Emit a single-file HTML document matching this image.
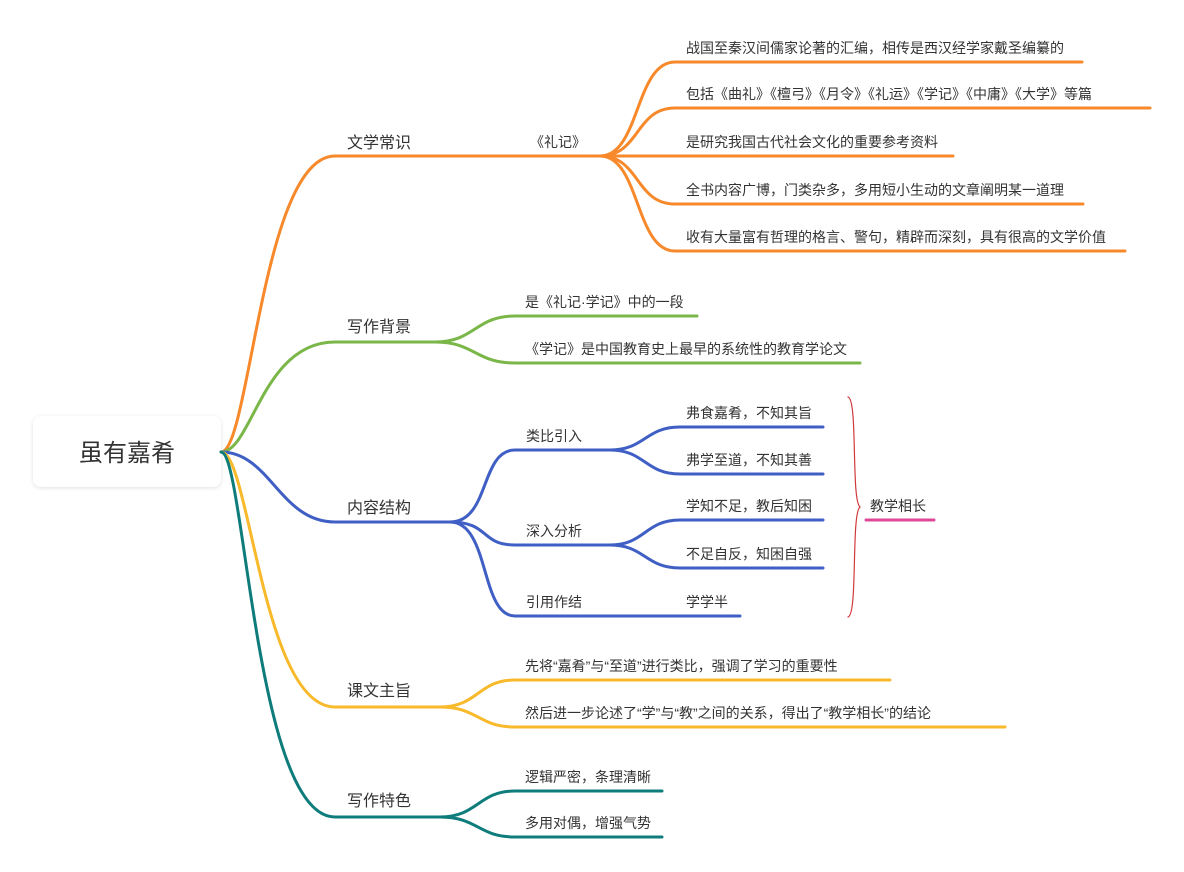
<!DOCTYPE html>
<html><head><meta charset="utf-8"><style>
html,body{margin:0;padding:0;background:#fff;width:1184px;height:872px;overflow:hidden}
svg{display:block}
text{font-family:"Liberation Sans","Noto Sans CJK SC",sans-serif;fill:#333}
.b{font-size:16px}.c{font-size:14px}
path{fill:none;stroke-width:3;stroke-linecap:round}
</style></head><body>
<svg width="1184" height="872" xmlns="http://www.w3.org/2000/svg">
<defs><filter id="sh" x="-20%" y="-20%" width="140%" height="150%"><feDropShadow dx="0" dy="1" stdDeviation="2" flood-color="#000" flood-opacity="0.12"/></filter></defs>
<rect x="33" y="416" width="188" height="71" rx="8" fill="#fff" filter="url(#sh)"/>
<text x="127" y="461" font-size="24" text-anchor="middle">虽有嘉肴</text>

<g stroke="#f7892b">
<path d="M221 452 C250 452 262 156 335 156 L600 156"/>
<path d="M600 156 C640 156 635 62 675 62 L1082 62"/>
<path d="M600 156 C640 156 635 108 675 108 L1150 108"/>
<path d="M600 156 L953 156"/>
<path d="M600 156 C640 156 635 204 675 204 L1083 204"/>
<path d="M600 156 C640 156 635 251 675 251 L1125 251"/>
</g>
<text class="b" x="347" y="148">文学常识</text>
<text class="c" x="530" y="147">《礼记》</text>
<text class="c" x="686" y="53">战国至秦汉间儒家论著的汇编，相传是西汉经学家戴圣编纂的</text>
<text class="c" x="686" y="99">包括《曲礼》《檀弓》《月令》《礼运》《学记》《中庸》《大学》等篇</text>
<text class="c" x="686" y="147">是研究我国古代社会文化的重要参考资料</text>
<text class="c" x="686" y="195">全书内容广博，门类杂多，多用短小生动的文章阐明某一道理</text>
<text class="c" x="686" y="242">收有大量富有哲理的格言、警句，精辟而深刻，具有很高的文学价值</text>

<g stroke="#7ab648">
<path d="M221 452 C252 452 262 342 335 342 L435 342"/>
<path d="M435 342 C475 342 475 316 515 316 L697 316"/>
<path d="M435 342 C475 342 475 363 515 363 L860 363"/>
</g>
<text class="b" x="347" y="332">写作背景</text>
<text class="c" x="525" y="307">是《礼记·学记》中的一段</text>
<text class="c" x="525" y="354">《学记》是中国教育史上最早的系统性的教育学论文</text>

<g stroke="#3f5fc4">
<path d="M221 452 C270 452 280 522 335 522 L450 522"/>
<path d="M450 522 C490 522 480 450 515 450 L610 450"/>
<path d="M450 522 C490 522 480 545 515 545 L610 545"/>
<path d="M450 522 C490 522 480 616 515 616 L740 616"/>
<path d="M610 450 C645 450 645 427 680 427 L823 427"/>
<path d="M610 450 C645 450 645 474 680 474 L823 474"/>
<path d="M610 545 C645 545 645 520 680 520 L823 520"/>
<path d="M610 545 C645 545 645 568 680 568 L823 568"/>
</g>
<text class="b" x="347" y="513">内容结构</text>
<text class="c" x="526" y="441">类比引入</text>
<text class="c" x="526" y="536">深入分析</text>
<text class="c" x="526" y="607">引用作结</text>
<text class="c" x="686" y="418">弗食嘉肴，不知其旨</text>
<text class="c" x="686" y="465">弗学至道，不知其善</text>
<text class="c" x="686" y="511">学知不足，教后知困</text>
<text class="c" x="686" y="559">不足自反，知困自强</text>
<text class="c" x="686" y="607">学学半</text>
<path d="M848 397 C858 399 851 500 860 507 C851 514 858 615 848 617" style="stroke:#d0393a;stroke-width:1.2"/>
<text class="c" x="870" y="511">教学相长</text>
<path d="M866 520 L934 520" stroke="#e0489a"/>

<g stroke="#f8b92b">
<path d="M221 452 C250 452 262 707 335 707 L440 707"/>
<path d="M440 707 C478 707 478 680 515 680 L890 680"/>
<path d="M440 707 C478 707 478 727 515 727 L1005 727"/>
</g>
<text class="b" x="347" y="696">课文主旨</text>
<text class="c" x="525" y="671">先将“嘉肴”与“至道”进行类比，强调了学习的重要性</text>
<text class="c" x="525" y="718">然后进一步论述了“学”与“教”之间的关系，得出了“教学相长”的结论</text>

<g stroke="#0e7c7b">
<path d="M221 452 C245 452 255 817 335 817 L440 817"/>
<path d="M440 817 C478 817 478 791 515 791 L662 791"/>
<path d="M440 817 C478 817 478 837 515 837 L662 837"/>
</g>
<text class="b" x="347" y="806">写作特色</text>
<text class="c" x="525" y="782">逻辑严密，条理清晰</text>
<text class="c" x="525" y="828">多用对偶，增强气势</text>
</svg>
</body></html>
